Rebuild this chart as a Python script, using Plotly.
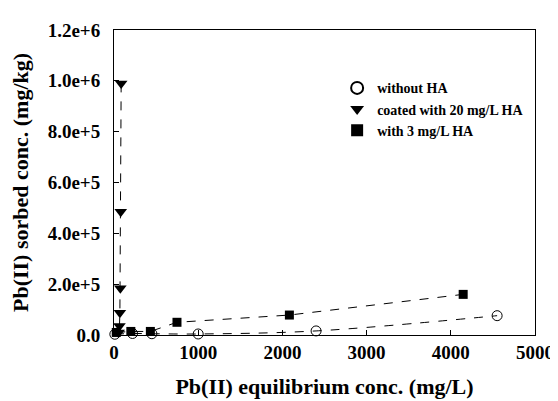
import plotly.graph_objects as go

# Data
without_ha_x = [10, 220, 450, 1000, 2400, 4550]
without_ha_y = [3000, 6000, 5000, 4000, 16000, 76000]

coated_x = [85, 80, 75, 70, 65, 55]
coated_y = [990000, 485000, 184000, 88000, 35000, 10000]

ha3_x = [27, 200, 432, 748, 2083, 4147]
ha3_y = [10000, 14000, 14000, 50000, 78500, 159800]

names = ["without HA", "coated with 20 mg/L HA", "with 3 mg/L HA"]

x_ticks = [0, 1000, 2000, 3000, 4000, 5000]
x_ticktext = ["0", "1000", "2000", "3000", "4000", "5000"]
y_ticks = [0, 200000, 400000, 600000, 800000, 1000000, 1200000]
y_ticktext = ["0.0", "2.0e+5", "4.0e+5", "6.0e+5", "8.0e+5", "1.0e+6", "1.2e+6"]

FONT = "Liberation Serif"

series = [
    (without_ha_x, without_ha_y, names[0],
     dict(symbol="circle-open", size=10, color="black", line=dict(width=1, color="black")), "spline"),
    (coated_x, coated_y, names[1],
     dict(symbol="triangle-down", size=11, color="black"), "linear"),
    (ha3_x, ha3_y, names[2],
     dict(symbol="square", size=9, color="black"), "linear"),
]

fig = go.Figure()
# dashed connecting lines (not in legend)
for xs, ys, nm, mk, shp in series:
    fig.add_trace(go.Scatter(
        x=xs, y=ys, mode="lines", showlegend=False, hoverinfo="skip",
        line=dict(color="black", width=1, dash="dash", shape=shp),
        cliponaxis=False,
    ))
# markers (in legend)
for xs, ys, nm, mk, shp in series:
    fig.add_trace(go.Scatter(
        x=xs, y=ys, name=nm, mode="markers", marker=mk, cliponaxis=False,
    ))

fig.update_layout(
    width=558, height=401,
    margin=dict(l=106, r=20, t=17, b=74),
    paper_bgcolor="white", plot_bgcolor="white",
    font=dict(family=FONT, color="black"),
    showlegend=True,
    legend=dict(
        x=0.53, y=0.74, xanchor="left", yanchor="middle",
        bgcolor="rgba(0,0,0,0)", borderwidth=0,
        font=dict(family=FONT, size=14, color="black", weight="bold"),
        itemsizing="constant",
    ),
    xaxis=dict(
        range=[0, 5000], tickvals=x_ticks, ticktext=x_ticktext,
        ticks="inside", ticklen=5, tickcolor="black",
        showline=True, linecolor="black", linewidth=1, mirror=True,
        showgrid=False, zeroline=False,
        tickfont=dict(family=FONT, size=19, color="black", weight="bold"),
        ticklabelstandoff=0,
        title=dict(text="Pb(II) equilibrium conc. (mg/L)",
                   font=dict(family=FONT, size=22, color="black", weight="bold"),
                   standoff=16),
    ),
    yaxis=dict(
        range=[0, 1200000], tickvals=y_ticks, ticktext=y_ticktext,
        ticks="inside", ticklen=5, tickcolor="black",
        showline=True, linecolor="black", linewidth=1, mirror=True,
        showgrid=False, zeroline=False,
        tickfont=dict(family=FONT, size=19, color="black", weight="bold"),
        ticklabelstandoff=9,
        title=dict(text="Pb(II) sorbed conc. (mg/kg)",
                   font=dict(family=FONT, size=22, color="black", weight="bold"),
                   standoff=12),
    ),
)

fig.write_html("out.html")
